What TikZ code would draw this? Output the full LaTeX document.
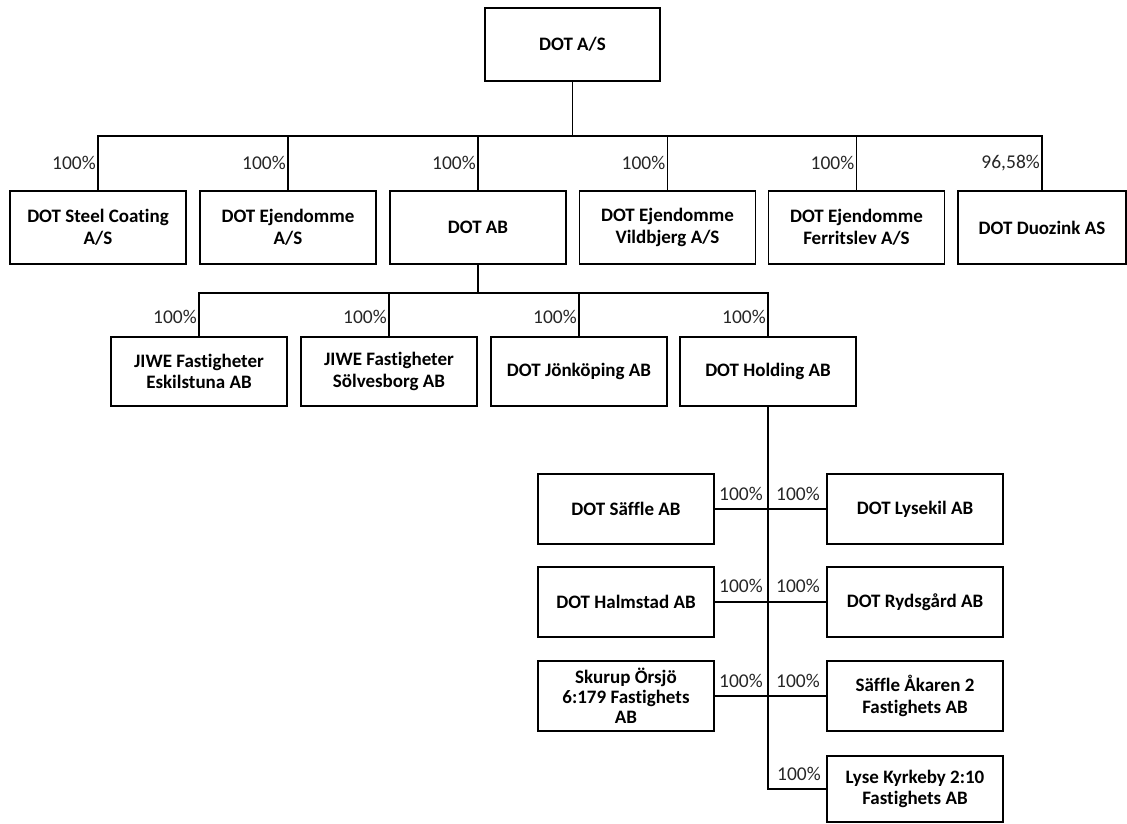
\documentclass[tikz,border=0pt]{standalone}
\usepackage{fontspec}
\setmainfont{Carlito}[Ligatures=NoCommon]
\usetikzlibrary{calc}
\begin{document}
\begin{tikzpicture}[x=1pt,y=-1pt,
  box/.style={draw=black, line width=1.6pt, minimum width=176pt, minimum height=70pt, align=center, inner sep=2pt,
    font=\fontsize{19}{21.5}\selectfont\bfseries},
  pct/.style={font=\fontsize{19.5}{22}\selectfont, inner sep=0pt, text=black!85},
  conn/.style={line width=1.8pt, draw=black},
  thin/.style={line width=1.3pt, draw=black}]
\useasboundingbox (0,0) rectangle (1127,823);

% level 0
\node[box, minimum height=73pt, minimum width=175pt] (dot) at (572.5,44.5) {DOT A/S};

% level 1
\node[box, minimum height=73pt] (steel) at (98,227.5) {DOT Steel Coating\\A/S};
\node[box, minimum height=73pt] (ejd) at (288,227.5) {DOT Ejendomme\\A/S};
\node[box, minimum height=73pt] (ab) at (478,227.5) {DOT AB};
\node[box, minimum height=73pt] (vild) at (667.5,227.5) {DOT Ejendomme\\Vildbjerg A/S};
\node[box, minimum height=73pt] (ferr) at (856.5,227.5) {DOT Ejendomme\\Ferritslev A/S};
\node[box, minimum height=73pt, minimum width=168pt] (duo) at (1042,227.5) {DOT Duozink AS};

% level 2
\node[box, minimum height=69pt] (eski) at (199,371.5) {JIWE Fastigheter\\Eskilstuna AB};
\node[box, minimum height=69pt] (solv) at (389,371.5) {JIWE Fastigheter\\Sölvesborg AB};
\node[box, minimum height=69pt] (jonk) at (579,371.5) {DOT Jönköping AB};
\node[box, minimum height=69pt] (hold) at (768,371.5) {DOT Holding AB};

% level 3
\node[box] (saffle) at (626,509) {DOT Säffle AB};
\node[box] (lysekil) at (915,509) {DOT Lysekil AB};
\node[box] (halm) at (626,602) {DOT Halmstad AB};
\node[box] (ryds) at (915,602) {DOT Rydsgård AB};
\node[box, font=\fontsize{19}{20}\selectfont\bfseries] (skurup) at (626,696) {Skurup Örsjö\\6:179 Fastighets\\AB};
\node[box] (akaren) at (915,696) {Säffle Åkaren 2\\Fastighets AB};
\node[box, minimum height=66pt] (lyse) at (915,789) {Lyse Kyrkeby 2:10\\Fastighets AB};

% connectors level 1
\draw[conn] (dot.south) -- ++(0,54) coordinate (bus0);
\foreach \c in {steel,ejd,ab,vild,ferr,duo}{
  \draw[conn] (bus0) -| (\c.north);
}
\node[pct, anchor=east] (l1) at ($(steel.north)+(-2,-27)$) {100\%};
\node[pct, anchor=east] (l2) at ($(ejd.north)+(-2,-27)$) {100\%};
\node[pct, anchor=east] (l3) at ($(ab.north)+(-2,-27)$) {100\%};
\node[pct, anchor=east] (l4) at ($(vild.north)+(-2,-27)$) {100\%};
\node[pct, anchor=east] (l5) at ($(ferr.north)+(-2,-27)$) {100\%};
\node[pct, anchor=east] (l6) at ($(duo.north)+(-2,-27)$) {96,58\%};

% connectors level 2
\draw[conn] (ab.south) -- ++(0,28) coordinate (bus1);
\foreach \c in {eski,solv,jonk,hold}{
  \draw[conn] (bus1) -| (\c.north);
}
\node[pct, anchor=east] (m1) at ($(eski.north)+(-2,-19.5)$) {100\%};
\node[pct, anchor=east] (m2) at ($(solv.north)+(-2,-19.5)$) {100\%};
\node[pct, anchor=east] (m3) at ($(jonk.north)+(-2,-19.5)$) {100\%};
\node[pct, anchor=east] (m4) at ($(hold.north)+(-2,-19.5)$) {100\%};

% connectors level 3
\draw[conn] (hold.south) |- (lyse.west);
\draw[thin] (saffle.east) -- (lysekil.west);
\draw[thin] (halm.east) -- (ryds.west);
\draw[thin] (skurup.east) -- (akaren.west);

\node[pct, anchor=east] (n1) at ($(hold.south |- saffle.east)+(-5,-15)$) {100\%};
\node[pct, anchor=west] (n2) at ($(hold.south |- saffle.east)+(8,-15)$) {100\%};
\node[pct, anchor=east] (n3) at ($(hold.south |- halm.east)+(-5,-16)$) {100\%};
\node[pct, anchor=west] (n4) at ($(hold.south |- halm.east)+(8,-16)$) {100\%};
\node[pct, anchor=east] (n5) at ($(hold.south |- skurup.east)+(-5,-15)$) {100\%};
\node[pct, anchor=west] (n6) at ($(hold.south |- skurup.east)+(8,-15)$) {100\%};
\node[pct, anchor=west] (n7) at ($(hold.south |- lyse.west)+(9,-15)$) {100\%};
\end{tikzpicture}
\end{document}
